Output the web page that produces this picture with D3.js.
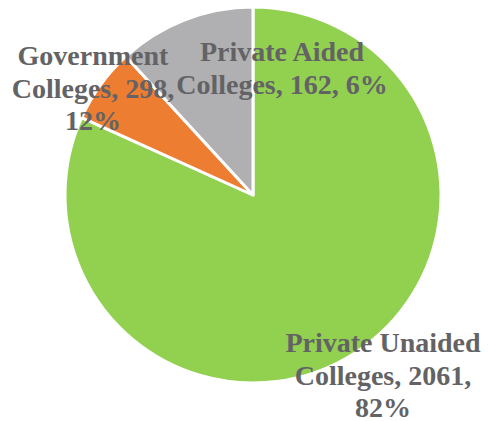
<!DOCTYPE html>
<html>
<head>
<meta charset="utf-8">
<script src="https://cdn.jsdelivr.net/npm/d3@7"></script>
<style>
  html, body { margin: 0; padding: 0; background: #fff; }
  svg { display: block; }
</style>
</head>
<body>
<svg id="chart" width="488" height="421"></svg>
<script>
// Data
const categories = ["Private Unaided Colleges", "Private Aided Colleges", "Government Colleges"];
const values = [2061, 162, 298];
const colors = ["#92D050", "#ED7D31", "#B0B0B2"];
// label text lines (how the original wraps them)
const labelLines = [
  ["Private Unaided", "Colleges, {v},", "{p}"],
  ["Private Aided", "Colleges, {v}, {p}"],
  ["Government", "Colleges, {v},", "{p}"]
];

const W = 488, H = 421;
const cx = 253, cy = 195, R = 188;
const svg = d3.select("#chart");
const g = svg.append("g").attr("transform", `translate(${cx},${cy})`);

const data = categories.map((c, i) => ({ name: c, value: values[i], color: colors[i], lines: labelLines[i] }));
const total = d3.sum(values);

const pie = d3.pie().sort(null).value(d => d.value).startAngle(0).endAngle(2 * Math.PI);
const arc = d3.arc().innerRadius(0).outerRadius(R);
const arcs = pie(data);

g.selectAll("path.slice")
  .data(arcs)
  .enter().append("path")
  .attr("class", "slice")
  .attr("d", arc)
  .attr("fill", d => d.data.color)
  .attr("stroke", "#fff")
  .attr("stroke-width", 3)
  .attr("stroke-linejoin", "round");

// Label placement (manually positioned in original chart), relative to pie centre
const labelLayout = {
  "Private Unaided Colleges": { dx: 130, dy: 157 },
  "Private Aided Colleges": { dx: 29, dy: -134 },
  "Government Colleges": { dx: -160, dy: -130 }
};
const lineH = 32.5;

const labels = svg.append("g").attr("transform", `translate(${cx},${cy})`);
arcs.forEach(a => {
  const d = a.data;
  const pct = Math.round(d.value / total * 100) + "%";
  const pos = labelLayout[d.name];
  const t = labels.append("text")
    .attr("text-anchor", "middle")
    .attr("font-family", "'Liberation Serif', 'Times New Roman', serif")
    .attr("font-weight", "bold")
    .attr("font-size", 28)
    .attr("fill", "#636366");
  d.lines.forEach((ln, i) => {
    t.append("tspan")
      .attr("x", pos.dx)
      .attr("y", pos.dy + i * lineH)
      .text(ln.replace("{v}", d.value).replace("{p}", pct));
  });
});
</script>
</body>
</html>
